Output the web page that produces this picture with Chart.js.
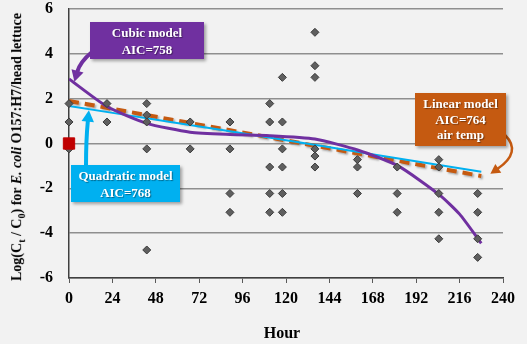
<!DOCTYPE html>
<html>
<head>
<meta charset="utf-8">
<script src="https://cdn.jsdelivr.net/npm/chart.js@4"></script>
<style>
  html, body { margin: 0; padding: 0; background: #F2F2F2; }
  #wrap { position: relative; width: 527px; height: 344px; overflow: hidden; font-family: "Liberation Serif", "Times New Roman", serif; }
  #chart { position: absolute; left: 0; top: 0; }
  .ytitle { position: absolute; left: 18px; top: 147px; white-space: nowrap; font-weight: bold; font-size: 14px; color: #000;
            transform: translate(-50%, -50%) rotate(-90deg); }
  .ytitle sub { font-size: 10px; }
  .xtitle { position: absolute; left: 282px; top: 333px; transform: translate(-50%, -50%); font-weight: bold; font-size: 16px; }
  .box { position: absolute; color: #fff; font-weight: bold; font-size: 13px; text-align: center;
         box-shadow: 2px 2px 3px rgba(0,0,0,0.35); text-shadow: 1px 1px 1px rgba(0,0,0,0.4);
         display: flex; flex-direction: column; justify-content: center; }
</style>
</head>
<body>
<div id="wrap">
  <canvas id="chart" width="527" height="344"></canvas>
  <div class="ytitle">Log(C<sub>t</sub> / C<sub>0</sub>) for <i>E. coli</i> O157:H7/head lettuce</div>
  <div class="xtitle">Hour</div>
  <div class="box" style="left:90px;top:22px;width:114px;height:37px;background:#7030A0;line-height:17px;">Cubic model<br>AIC=758</div>
  <div class="box" style="left:71px;top:165px;width:109px;height:37px;background:#00B0F0;line-height:17px;">Quadratic model<br>AIC=768</div>
  <div class="box" style="left:415px;top:93px;width:91px;height:53px;background:#C55A11;line-height:15.5px;">Linear model<br>AIC=764<br>air temp</div>
</div>
<script>
// observed log reductions
const obsHour = [0, 0, 0, 21, 21, 43, 43, 43, 43, 43, 67, 67, 89, 89, 89, 89,
  111, 111, 111, 111, 111, 118, 118, 118, 118, 118, 118,
  136, 136, 136, 136, 136, 136, 159.5, 159.5, 159.5, 181.5, 181.5, 181.5,
  204.5, 204.5, 204.5, 204.5, 204.5, 226, 226, 226, 226];
const obsLog = [1.78, 0.96, -0.24, 1.78, 0.96, 1.78, 1.27, 0.96, -0.24, -4.75, 0.96, -0.24, 0.96, -0.24, -2.23, -3.07,
  1.78, 0.96, -1.05, -2.23, -3.07, 2.95, 0.96, -0.24, -1.05, -2.23, -3.07,
  4.96, 3.47, 2.95, -0.24, -0.56, -1.05, -0.72, -1.05, -2.23, -1.05, -2.23, -3.07,
  -0.72, -1.05, -2.23, -3.07, -4.25, -2.23, -3.07, -4.25, -5.08];

// initial point
const initHour = [0];
const initLog = [0];

// model fits
const cubicHour = [0, 21, 43, 67, 89, 111, 136, 160, 182, 205, 216, 228];
const cubicLog = [2.88, 1.65, 0.9, 0.5, 0.4, 0.35, 0.2, -0.3, -1.0, -2.3, -3.15, -4.45];
const quadHour = [0, 57, 114, 171, 228];
const quadLog = [1.67, 0.95, 0.22, -0.52, -1.26];
const linHour = [0, 228];
const linLog = [1.9, -1.45];

const xTicks = [0, 24, 48, 72, 96, 120, 144, 168, 192, 216, 240];
const yTicks = [-6, -4, -2, 0, 2, 4, 6];

const pts = (xs, ys) => xs.map((x, i) => ({ x: x, y: ys[i] }));

// arrows from the label boxes to the fitted lines
function arrow(ctx, x0, y0, cx, cy, x1, y1, color, w, head) {
  ctx.save();
  ctx.strokeStyle = color;
  ctx.fillStyle = color;
  ctx.lineWidth = w;
  const ang = Math.atan2(y1 - cy, x1 - cx);
  const bx = x1 - Math.cos(ang) * head * 0.8, by = y1 - Math.sin(ang) * head * 0.8;
  ctx.beginPath();
  ctx.moveTo(x0, y0);
  ctx.quadraticCurveTo(cx, cy, bx, by);
  ctx.stroke();
  ctx.beginPath();
  ctx.moveTo(x1, y1);
  ctx.lineTo(x1 - Math.cos(ang - 0.5) * head, y1 - Math.sin(ang - 0.5) * head);
  ctx.lineTo(x1 - Math.cos(ang + 0.5) * head, y1 - Math.sin(ang + 0.5) * head);
  ctx.closePath();
  ctx.fill();
  ctx.restore();
}

const arrowPlugin = {
  id: 'arrows',
  afterDatasetsDraw(chart) {
    const ctx = chart.ctx;
    const xs = chart.scales.x, ys = chart.scales.y;
    arrow(ctx, 92, 52, 80, 62, xs.getPixelForValue(3), ys.getPixelForValue(2.75), '#7030A0', 4, 13);
    arrow(ctx, 86, 166, 86, 140, xs.getPixelForValue(11), ys.getPixelForValue(1.48), '#00B0F0', 4, 13);
    arrow(ctx, 505, 135, 522, 152, xs.getPixelForValue(233), ys.getPixelForValue(-1.35), '#C55A11', 2.5, 11);
  }
};

const shadowPlugin = {
  id: 'lineShadow',
  beforeDatasetDraw(chart, args) {
    if (args.index === 0) {
      chart.ctx.save();
      chart.ctx.shadowColor = 'rgba(0,0,0,0.3)';
      chart.ctx.shadowOffsetX = 1.5;
      chart.ctx.shadowOffsetY = 1.5;
      chart.ctx.shadowBlur = 2;
    }
  },
  afterDatasetDraw(chart, args) {
    if (args.index === 0) chart.ctx.restore();
  }
};

const tickFont = { family: 'Liberation Serif', size: 16, weight: 'bold' };

new Chart(document.getElementById('chart'), {
  type: 'scatter',
  data: {
    datasets: [
      { label: 'Linear', data: pts(linHour, linLog), showLine: true, borderColor: '#C55A11', borderWidth: 4,
        borderDash: [10, 6], pointRadius: 0, order: 5 },
      { label: 'Quadratic', data: pts(quadHour, quadLog), showLine: true, borderColor: '#00B0F0', borderWidth: 2,
        pointRadius: 0, tension: 0.3, order: 4 },
      { label: 'Cubic', data: pts(cubicHour, cubicLog), showLine: true, borderColor: '#7030A0', borderWidth: 3,
        pointRadius: 0, tension: 0.2, order: 3 },
      { label: 'Observed', data: pts(obsHour, obsLog), pointStyle: 'rectRot', pointRadius: 4, clip: false,
        backgroundColor: '#5F5F5F', borderColor: '#3A3A3A', borderWidth: 1, order: 2 },
      { label: 'Initial', data: pts(initHour, initLog), pointStyle: 'rect', pointRadius: 8, clip: false,
        backgroundColor: '#C00000', borderColor: '#C00000', order: 1 }
    ]
  },
  options: {
    responsive: false,
    animation: false,
    layout: { padding: { top: 9, right: 24, left: 0, bottom: 0 } },
    plugins: { legend: { display: false }, tooltip: { enabled: false } },
    scales: {
      x: {
        min: 0, max: 240,
        afterFit: s => { s.height = 66; s.paddingLeft = 0; s.paddingRight = 0; },
        afterBuildTicks: s => { s.ticks = xTicks.map(v => ({ value: v })); },
        ticks: { font: tickFont, color: '#000', padding: 6, maxRotation: 0 },
        grid: { color: 'rgba(0,0,0,0)', tickColor: '#595959', tickLength: 5, drawTicks: true },
        border: { color: '#404040', width: 1.5 }
      },
      y: {
        min: -6, max: 6,
        afterFit: s => { s.width = 69; s.paddingTop = 0; s.paddingBottom = 0; },
        afterBuildTicks: s => { s.ticks = yTicks.map(v => ({ value: v })); },
        ticks: { font: tickFont, color: '#000', padding: 16 },
        grid: { color: '#8F8F8F', lineWidth: 1.5, drawTicks: false },
        border: { color: '#404040', width: 1.5 }
      }
    }
  },
  plugins: [shadowPlugin, arrowPlugin]
});
</script>
</body>
</html>
